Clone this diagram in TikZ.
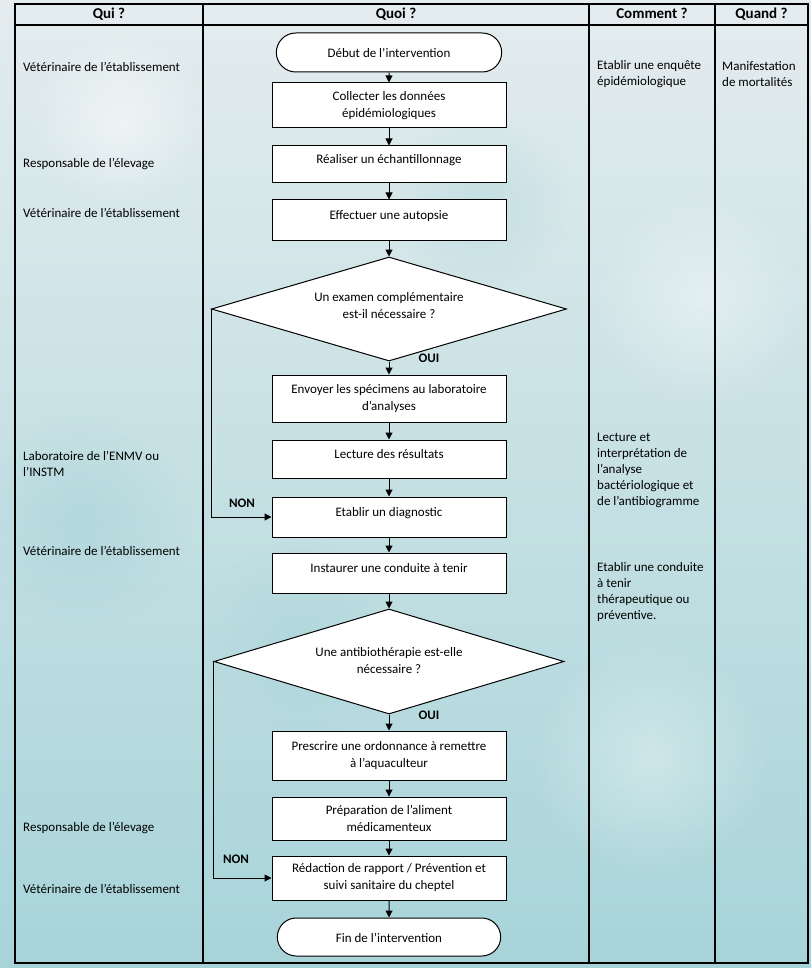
\documentclass[tikz,border=0pt]{standalone}
\usepackage{fontspec}
\setmainfont{Carlito}
\usetikzlibrary{shapes.geometric,shapes.misc,arrows.meta,fadings}
\definecolor{bgtop}{HTML}{E4ECEE}
\definecolor{bgmid}{HTML}{C3E1E4}
\definecolor{bgbot}{HTML}{A7D4D9}
\tikzfading[name=softblob, inner color=transparent!0, outer color=transparent!100]
\tikzset{
  every node/.style={font=\fontsize{13}{16}\selectfont},
  box/.style={draw, line width=1pt, fill=white, minimum width=234pt, inner sep=2pt, align=center,
              font=\fontsize{13}{17}\selectfont},
  raised/.style={text height=9pt, text depth=10.5pt},
  term/.style={draw, line width=1pt, fill=white, rounded rectangle, minimum width=232pt, minimum height=39pt,
               text height=10pt, text depth=0pt},
  dia/.style={draw, line width=1pt, fill=white, diamond, shape aspect=3.4, inner sep=0pt},
  dtext/.style={align=center, inner sep=0pt, font=\fontsize{13}{17}\selectfont},
  flow/.style={line width=1pt, -{Triangle[length=7pt,width=7pt]}},
  grid/.style={line width=1.1pt, draw=black},
  head/.style={font=\fontsize{15}{17}\selectfont\bfseries, text height=11pt, text depth=3pt, inner sep=0pt},
  yn/.style={font=\fontsize{13}{16}\selectfont\bfseries, inner sep=0pt, text height=9pt, text depth=0pt},
  side/.style={anchor=west, align=left, inner sep=0pt},
  one/.style={text height=10pt, text depth=0pt},
  blot/.style={path fading=softblob},
}
\begin{document}
\begin{tikzpicture}[x=1pt, y=-1pt]
\useasboundingbox (0,0) rectangle (811,968);
\shade[top color=bgtop, middle color=bgmid, bottom color=bgbot] (0,0) rectangle (811,968);
% soft watercolour blotches
\fill[white, blot, opacity=0.5] (120,120) circle (90);
\fill[white, blot, opacity=0.4] (700,300) circle (110);
\fill[white, blot, opacity=0.35] (650,760) circle (120);
\fill[bgbot, blot, opacity=0.6] (80,520) circle (110);
\fill[bgbot, blot, opacity=0.5] (300,640) circle (100);
\fill[bgbot, blot, opacity=0.4] (480,200) circle (90);

% table
\draw[grid] (15,4) rectangle (808,963);
\draw[grid] (15,25) -- (808,25);
\draw[grid] (203,4) -- (203,963);
\draw[grid] (589,4) -- (589,963);
\draw[grid] (715,4) -- (715,963);

% headers
\node[head] (hqui) at (109,15) {Qui ?};
\node[head] (hquoi) at (396,15) {Quoi ?};
\node[head] (hcomment) at (652,15) {Comment ?};
\node[head] (hquand) at (761.5,15) {Quand ?};

% flow nodes
\node[term] (t1) at (389,52.5) {Début de l’intervention};
\node[box, minimum height=45pt] (b1) at (389,105.5) {Collecter les données\\épidémiologiques};
\node[box, raised, minimum height=37pt] (b2) at (389,164.5) {Réaliser un échantillonnage};
\node[box, raised, minimum height=41pt] (b3) at (389,220.5) {Effectuer une autopsie};
\node[dia, minimum width=355pt, minimum height=104pt] (d1) at (389,309) {};
\node[dtext] (d1t) at (389,305.5) {Un examen complémentaire\\est-il nécessaire ?};
\node[box, minimum height=47pt] (b4) at (389,398.5) {Envoyer les spécimens au laboratoire\\d’analyses};
\node[box, raised, minimum height=38pt] (b5) at (389,459) {Lecture des résultats};
\node[box, raised, minimum height=40pt] (b6) at (389,517) {Etablir un diagnostic};
\node[box, raised, minimum height=40pt] (b7) at (389,573) {Instaurer une conduite à tenir};
\node[dia, minimum width=350pt, minimum height=105pt] (d2) at (389,661.5) {};
\node[dtext] (d2t) at (389,661) {Une antibiothérapie est-elle\\nécessaire ?};
\node[box, minimum height=49pt] (b8) at (389,755.5) {Prescrire une ordonnance à remettre\\à l’aquaculteur};
\node[box, minimum height=43pt] (b9) at (389,818.5) {Préparation de l’aliment\\médicamenteux};
\node[box, minimum height=44pt] (b10) at (389,878) {Rédaction de rapport / Prévention et\\suivi sanitaire du cheptel};
\node[term, minimum width=230pt, minimum height=38pt] (t2) at (389,937) {Fin de l’intervention};

% connectors
\draw[flow] (t1) -- (b1);
\draw[flow] (b1) -- (b2);
\draw[flow] (b2) -- (b3);
\draw[flow] (b3) -- (d1.north);
\draw[flow] (d1.south) -- (b4);
\draw[flow] (b4) -- (b5);
\draw[flow] (b5) -- (b6);
\draw[flow] (b6) -- (b7);
\draw[flow] (b7) -- (d2.north);
\draw[flow] (d2.south) -- (b8);
\draw[flow] (b8) -- (b9);
\draw[flow] (b9) -- (b10);
\draw[flow] (b10) -- (t2);
\draw[flow] (d1.west) |- (b6.west);
\draw[flow] (d2.west) |- (b10.west);

\node[yn] (oui1) at (429,358) {OUI};
\node[yn] (non1) at (242,503) {NON};
\node[yn] (oui2) at (429,715) {OUI};
\node[yn] (non2) at (236,859) {NON};

% Qui column
\node[side, one] (q1) at (23,67) {Vétérinaire de l’établissement};
\node[side, one] (q2) at (23,163) {Responsable de l’élevage};
\node[side, one] (q3) at (23,213) {Vétérinaire de l’établissement};
\node[side] (q4) at (23,463.5) {Laboratoire de l’ENMV ou\\l’INSTM};
\node[side, one] (q5) at (23,550) {Vétérinaire de l’établissement};
\node[side, one] (q6) at (23,826) {Responsable de l’élevage};
\node[side, one] (q7) at (23,888) {Vétérinaire de l’établissement};

% Comment column
\node[side] (c1) at (597,74.5) {Etablir une enquête\\épidémiologique};
\node[side] (c2) at (597,470) {Lecture et\\interprétation de\\l’analyse\\bactériologique et\\de l’antibiogramme};
\node[side] (c3) at (597,592) {Etablir une conduite\\à tenir\\thérapeutique ou\\préventive.};

% Quand column
\node[side] (w1) at (722,74.5) {Manifestation\\de mortalités};
\end{tikzpicture}
\end{document}
